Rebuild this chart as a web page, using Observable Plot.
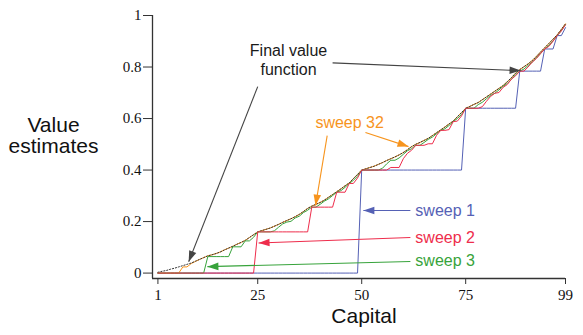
<!DOCTYPE html>
<html><head><meta charset="utf-8">
<script src="https://cdn.jsdelivr.net/npm/d3@7"></script>
<script src="https://cdn.jsdelivr.net/npm/@observablehq/plot@0.6"></script>
<style>body{margin:0;background:#fff} svg{display:block}</style>
</head><body><div id="chart"></div>
<script>
// Capital 1..99
const capital = d3.range(1, 100);

const finalValue = [
  .003,.007,.010,.015,.019,.024,.029,.034,.039,.046,
  .053,.060,.067,.071,.076,.082,.090,.097,.104,.112,
  .119,.127,.138,.149,.160,.165,.170,.175,.182,.189,
  .197,.204,.211,.219,.228,.239,.251,.260,.267,.274,
  .283,.294,.305,.316,.327,.339,.350,.367,.383,.400,
  .405,.410,.415,.422,.429,.437,.444,.451,.459,.468,
  .479,.491,.500,.507,.515,.523,.534,.545,.556,.567,
  .579,.590,.607,.623,.640,.647,.655,.662,.673,.684,
  .695,.706,.717,.728,.743,.759,.776,.790,.801,.812,
  .825,.841,.858,.875,.891,.908,.925,.946,.968
];
const sweep32 = [
  0,0,0,0,0,0,.024,.024,.037,.045,
  .053,.060,.067,.071,.076,.082,.090,.097,.104,.112,
  .119,.127,.138,.149,.160,.165,.170,.175,.182,.189,
  .197,.204,.211,.219,.228,.239,.251,.260,.267,.274,
  .283,.294,.305,.316,.327,.339,.350,.367,.383,.400,
  .405,.410,.415,.422,.429,.437,.444,.451,.459,.468,
  .479,.491,.500,.507,.515,.523,.534,.545,.556,.567,
  .579,.590,.607,.623,.640,.647,.655,.662,.673,.684,
  .695,.706,.717,.728,.743,.759,.776,.790,.801,.812,
  .825,.841,.858,.875,.891,.908,.925,.946,.968
];
const sweep3 = [
  0,0,0,0,0,0,0,0,0,0,
  0,0,.064,.064,.064,.064,.064,.064,.102,.102,
  .102,.125,.125,.139,.160,.160,.160,.160,.164,.178,
  .191,.198,.201,.214,.221,.235,.244,.256,.256,.267,
  .279,.288,.301,.314,.320,.333,.348,.360,.376,.400,
  .400,.400,.400,.400,.407,.424,.438,.438,.447,.461,
  .475,.483,.496,.496,.507,.519,.528,.541,.554,.560,
  .573,.588,.600,.616,.640,.640,.640,.654,.663,.677,
  .690,.698,.711,.725,.736,.753,.770,.784,.792,.806,
  .819,.835,.852,.870,.884,.901,.922,.941,.965
];
const sweep2 = [
  0,0,0,0,0,0,0,0,0,0,
  0,0,0,0,0,0,0,0,0,0,
  0,0,0,0,.160,.160,.160,.160,.160,.160,
  .160,.160,.160,.160,.160,.160,.160,.256,.256,.256,
  .256,.256,.256,.314,.314,.314,.348,.348,.369,.400,
  .400,.400,.400,.400,.400,.400,.410,.410,.410,.444,
  .465,.477,.496,.496,.496,.502,.502,.535,.554,.554,
  .557,.588,.590,.610,.640,.640,.640,.640,.646,.667,
  .686,.698,.701,.721,.732,.753,.766,.784,.784,.800,
  .819,.833,.852,.870,.880,.900,.922,.940,.964
];
const sweep1 = [
  0,0,0,0,0,0,0,0,0,0,
  0,0,0,0,0,0,0,0,0,0,
  0,0,0,0,0,0,0,0,0,0,
  0,0,0,0,0,0,0,0,0,0,
  0,0,0,0,0,0,0,0,0,.4,
  .4,.4,.4,.4,.4,.4,.4,.4,.4,.4,
  .4,.4,.4,.4,.4,.4,.4,.4,.4,.4,
  .4,.4,.4,.4,.64,.64,.64,.64,.64,.64,
  .64,.64,.64,.64,.64,.64,.64,.784,.784,.784,
  .784,.784,.784,.870,.870,.870,.922,.922,.953
];

const xTicks = [1, 25, 50, 75, 99];
const yTicks = [0, 0.2, 0.4, 0.6, 0.8, 1];

const blue = "#5561b5", red = "#ee2d4c", green = "#37a33b", orange = "#f7941d", ink = "#1a1a1a";

// Annotation texts (data coordinates)
const noteText = ["Final value\nfunction", "sweep 32", "sweep 1", "sweep 2", "sweep 3"];
const noteX = [32.4, 47.1, 62.9, 62.9, 62.9];
const noteY = [0.83, 0.586, 0.243, 0.138, 0.049];
const noteAnchor = ["middle", "middle", "start", "start", "start"];
const noteColor = [ink, orange, blue, red, green];

// Annotation arrows (data coordinates): from (x1,y1) to tip (x2,y2)
const arrowX1 = [43.0, 25.0, 41.7, 50.9, 61.7, 61.7, 61.7];
const arrowY1 = [0.816, 0.724, 0.534, 0.546, 0.243, 0.138, 0.045];
const arrowX2 = [88.2, 8.4, 38.9, 61.25, 50.4, 25.2, 12.9];
const arrowY2 = [0.786, 0.044, 0.262, 0.491, 0.243, 0.117, 0.025];
const arrowColor = ["#444", "#444", orange, orange, blue, red, green];

const W = 583, H = 335, mL = 152, mR = 18, mT = 15, mB = 57;
const xDomain = [-0.3, 99], yDomain = [-0.021, 1];

const notes = noteText.map((t, i) => ({text: t, x: noteX[i], y: noteY[i], anchor: noteAnchor[i], color: noteColor[i]}));
const arrows = arrowX1.map((_, i) => ({x1: arrowX1[i], y1: arrowY1[i], x2: arrowX2[i], y2: arrowY2[i], color: arrowColor[i]}));

const xs = d3.scaleLinear(xDomain, [mL, W - mR]);
const ys = d3.scaleLinear(yDomain, [H - mB, mT]);
const angle = d => Math.atan2(xs(d.x2) - xs(d.x1), -(ys(d.y2) - ys(d.y1))) * 180 / Math.PI;

const serif = "'Liberation Serif', 'Times New Roman', serif";
const sans = "'Liberation Sans', Arial, Helvetica, sans-serif";

const seriesLine = (vals, opts) => Plot.line(vals, {x: (d, i) => capital[i], y: d => d, strokeWidth: 1, ...opts});

const chart = Plot.plot({
  width: W, height: H,
  marginLeft: mL, marginRight: mR, marginTop: mT, marginBottom: mB,
  x: {domain: xDomain},
  y: {domain: yDomain},
  color: {type: "identity"},
  style: {fontFamily: sans, background: "#fff"},
  marks: [
    Plot.ruleY([yDomain[0]], {x1: xDomain[0], x2: xTicks[xTicks.length - 1], stroke: "#333", strokeWidth: 1.3}),
    Plot.ruleX([xDomain[0]], {y1: yDomain[0], y2: yTicks[yTicks.length - 1], stroke: "#333", strokeWidth: 1.3}),
    Plot.axisX({ticks: xTicks, tickSize: 6, tickPadding: 5, fontSize: 15, fontFamily: serif, label: null, stroke: "#333", color: "#111", tickFormat: d => String(d)}),
    Plot.axisY({ticks: yTicks, tickSize: 9, tickPadding: 2, fontSize: 15, fontFamily: serif, label: null, stroke: "#333", color: "#111", tickFormat: d => String(d)}),
    seriesLine(sweep1, {stroke: blue}),
    seriesLine(sweep32, {stroke: orange}),
    seriesLine(finalValue, {stroke: "#333", strokeDasharray: "1.2 1.8"}),
    seriesLine(sweep3, {stroke: green}),
    seriesLine(sweep2, {stroke: red}),
    Plot.link(arrows, {x1: "x1", y1: "y1", x2: "x2", y2: "y2", stroke: "color", strokeWidth: 1.1}),
    Plot.vector(arrows, {x: "x2", y: "y2", rotate: angle, length: 11, r: 3.8, anchor: "end", shape: "spike", fill: "color", stroke: "none"}),
    Plot.text(notes, {x: "x", y: "y", text: "text", fill: "color", textAnchor: "start", filter: d => d.anchor === "start", fontSize: 16, fontFamily: sans}),
    Plot.text(notes, {x: "x", y: "y", text: "text", fill: "color", textAnchor: "middle", filter: d => d.anchor === "middle", fontSize: 16, lineHeight: 1.2, fontFamily: sans}),
    Plot.text(["Capital"], {frameAnchor: "bottom", dx: 5, dy: 44, fontSize: 21, fontFamily: sans, fill: "#111"}),
    Plot.text(["Value\nestimates"], {frameAnchor: "left", dx: -99, dy: -11, fontSize: 21, lineHeight: 1.0, textAnchor: "middle", fontFamily: sans, fill: "#111"})
  ]
});
document.getElementById("chart").appendChild(chart);
</script>
</body></html>
